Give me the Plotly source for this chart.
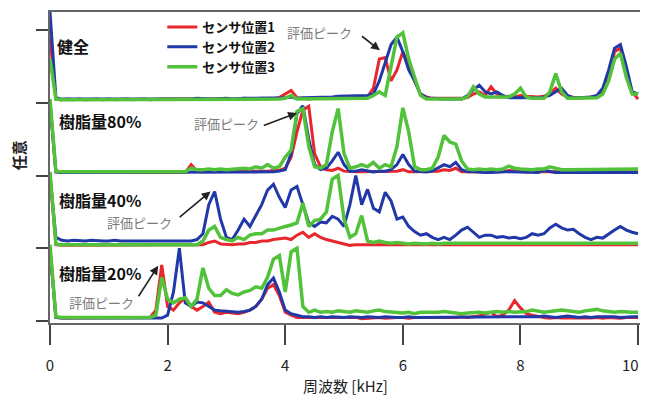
import plotly.graph_objects as go

# frequency grid (kHz)
freq = [round(i * 0.1, 1) for i in range(101)]

panel_names = ["健全", "樹脂量80%", "樹脂量40%", "樹脂量20%"]
series_names = ["センサ位置1", "センサ位置2", "センサ位置3"]
x_ticks = [0, 2, 4, 6, 8, 10]

# ---- 健全 ----
h_red = [0.90, 0.05, 0.04, 0.05, 0.04, 0.05, 0.04, 0.05, 0.05, 0.04,
         0.05, 0.04, 0.05, 0.05, 0.04, 0.05, 0.05, 0.04, 0.05, 0.05,
         0.05, 0.05, 0.04, 0.05, 0.05, 0.05, 0.04, 0.05, 0.05, 0.05,
         0.05, 0.05, 0.05, 0.06, 0.05, 0.05, 0.06, 0.05, 0.06, 0.07,
         0.12, 0.17, 0.07, 0.06, 0.05, 0.06, 0.06, 0.05, 0.06, 0.06,
         0.06, 0.07, 0.06, 0.07, 0.08, 0.20, 0.60, 0.62, 0.30, 0.45,
         0.70, 0.52, 0.30, 0.12, 0.08, 0.06, 0.06, 0.05, 0.06, 0.06,
         0.06, 0.07, 0.12, 0.15, 0.10, 0.22, 0.12, 0.08, 0.09, 0.08,
         0.10, 0.09, 0.08, 0.08, 0.09, 0.12, 0.20, 0.12, 0.08, 0.07,
         0.07, 0.07, 0.08, 0.09, 0.15, 0.35, 0.70, 0.75, 0.40, 0.15,
         0.05]
h_blue = [1.25, 0.07, 0.05, 0.05, 0.05, 0.04, 0.05, 0.05, 0.04, 0.05,
          0.05, 0.05, 0.05, 0.04, 0.05, 0.05, 0.05, 0.05, 0.05, 0.05,
          0.05, 0.05, 0.05, 0.05, 0.05, 0.06, 0.05, 0.05, 0.05, 0.06,
          0.06, 0.05, 0.06, 0.06, 0.06, 0.06, 0.06, 0.06, 0.06, 0.06,
          0.07, 0.08, 0.06, 0.07, 0.07, 0.07, 0.08, 0.08, 0.08, 0.09,
          0.09, 0.09, 0.10, 0.10, 0.10, 0.12, 0.30, 0.55, 0.80, 0.90,
          0.70, 0.45, 0.30, 0.12, 0.07, 0.06, 0.05, 0.05, 0.05, 0.05,
          0.05, 0.10, 0.18, 0.24, 0.15, 0.12, 0.15, 0.10, 0.07, 0.07,
          0.07, 0.07, 0.06, 0.07, 0.08, 0.10, 0.15, 0.20, 0.10, 0.07,
          0.07, 0.07, 0.08, 0.10, 0.20, 0.45, 0.75, 0.80, 0.50, 0.15,
          0.12]
h_green = [0.60, 0.05, 0.04, 0.04, 0.04, 0.04, 0.04, 0.04, 0.04, 0.04,
           0.04, 0.04, 0.04, 0.04, 0.04, 0.04, 0.04, 0.04, 0.04, 0.04,
           0.04, 0.04, 0.04, 0.04, 0.04, 0.04, 0.04, 0.04, 0.04, 0.04,
           0.04, 0.04, 0.04, 0.04, 0.05, 0.04, 0.04, 0.05, 0.05, 0.05,
           0.06, 0.10, 0.05, 0.05, 0.05, 0.05, 0.05, 0.05, 0.05, 0.05,
           0.05, 0.05, 0.05, 0.06, 0.06, 0.10, 0.15, 0.10, 0.50, 0.90,
           0.96, 0.60, 0.35, 0.10, 0.05, 0.05, 0.05, 0.05, 0.05, 0.05,
           0.05, 0.08, 0.22, 0.12, 0.08, 0.08, 0.08, 0.07, 0.08, 0.12,
           0.20, 0.08, 0.06, 0.06, 0.06, 0.15, 0.40, 0.15, 0.06, 0.06,
           0.06, 0.06, 0.06, 0.07, 0.12, 0.30, 0.60, 0.68, 0.35, 0.12,
           0.12]

# ---- 樹脂量80% ----
r80_red = [1.00, 0.05, 0.04, 0.04, 0.04, 0.04, 0.04, 0.04, 0.04, 0.04,
           0.04, 0.04, 0.04, 0.04, 0.04, 0.04, 0.04, 0.04, 0.04, 0.04,
           0.04, 0.04, 0.04, 0.04, 0.15, 0.06, 0.05, 0.05, 0.05, 0.05,
           0.05, 0.05, 0.05, 0.05, 0.05, 0.05, 0.06, 0.06, 0.07, 0.07,
           0.10, 0.25, 0.60, 0.90, 0.95, 0.30, 0.12, 0.08, 0.07, 0.10,
           0.06, 0.05, 0.05, 0.05, 0.05, 0.05, 0.05, 0.05, 0.05, 0.06,
           0.08, 0.05, 0.05, 0.05, 0.05, 0.05, 0.06, 0.08, 0.07, 0.10,
           0.05, 0.05, 0.05, 0.05, 0.05, 0.05, 0.05, 0.05, 0.07, 0.06,
           0.05, 0.05, 0.05, 0.05, 0.05, 0.05, 0.05, 0.05, 0.05, 0.05,
           0.05, 0.05, 0.05, 0.05, 0.05, 0.06, 0.05, 0.05, 0.05, 0.05,
           0.05]
r80_blue = [1.00, 0.05, 0.04, 0.04, 0.04, 0.04, 0.04, 0.04, 0.04, 0.04,
            0.04, 0.04, 0.04, 0.04, 0.04, 0.04, 0.04, 0.04, 0.04, 0.04,
            0.04, 0.04, 0.04, 0.04, 0.05, 0.04, 0.04, 0.04, 0.04, 0.04,
            0.04, 0.04, 0.04, 0.04, 0.04, 0.05, 0.05, 0.05, 0.05, 0.06,
            0.08, 0.30, 0.85, 0.96, 0.50, 0.15, 0.08, 0.10, 0.20, 0.32,
            0.15, 0.06, 0.06, 0.08, 0.06, 0.05, 0.06, 0.06, 0.08, 0.15,
            0.29, 0.15, 0.06, 0.05, 0.05, 0.06, 0.10, 0.15, 0.12, 0.18,
            0.08, 0.05, 0.05, 0.04, 0.04, 0.04, 0.05, 0.05, 0.05, 0.05,
            0.04, 0.04, 0.04, 0.04, 0.07, 0.05, 0.04, 0.04, 0.04, 0.04,
            0.04, 0.04, 0.05, 0.05, 0.04, 0.04, 0.05, 0.05, 0.04, 0.04,
            0.04]
r80_green = [1.05, 0.06, 0.05, 0.05, 0.05, 0.05, 0.05, 0.05, 0.05, 0.05,
             0.05, 0.05, 0.05, 0.05, 0.05, 0.05, 0.05, 0.05, 0.05, 0.05,
             0.05, 0.05, 0.05, 0.05, 0.10, 0.08, 0.08, 0.09, 0.08, 0.09,
             0.08, 0.09, 0.09, 0.10, 0.09, 0.12, 0.10, 0.15, 0.10, 0.12,
             0.25, 0.35, 0.88, 0.92, 0.40, 0.12, 0.10, 0.15, 0.60, 0.92,
             0.30, 0.10, 0.12, 0.15, 0.12, 0.18, 0.10, 0.15, 0.12, 0.40,
             0.93, 0.60, 0.12, 0.08, 0.08, 0.10, 0.25, 0.55, 0.46, 0.43,
             0.20, 0.09, 0.08, 0.09, 0.08, 0.09, 0.08, 0.09, 0.13, 0.10,
             0.09, 0.08, 0.08, 0.09, 0.09, 0.12, 0.10, 0.08, 0.08, 0.08,
             0.09, 0.08, 0.09, 0.09, 0.08, 0.09, 0.09, 0.08, 0.09, 0.09,
             0.09]

# ---- 樹脂量40% ----
r40_red = [1.00, 0.05, 0.04, 0.04, 0.04, 0.04, 0.04, 0.04, 0.04, 0.04,
           0.04, 0.04, 0.04, 0.04, 0.04, 0.04, 0.04, 0.04, 0.04, 0.04,
           0.04, 0.04, 0.04, 0.04, 0.04, 0.04, 0.05, 0.08, 0.10, 0.06,
           0.05, 0.05, 0.06, 0.06, 0.08, 0.08, 0.10, 0.10, 0.12, 0.13,
           0.14, 0.12, 0.18, 0.22, 0.15, 0.20, 0.15, 0.12, 0.10, 0.08,
           0.05, 0.04, 0.05, 0.05, 0.04, 0.04, 0.05, 0.05, 0.04, 0.05,
           0.05, 0.04, 0.04, 0.05, 0.05, 0.04, 0.04, 0.05, 0.05, 0.04,
           0.04, 0.05, 0.05, 0.04, 0.04, 0.05, 0.05, 0.04, 0.04, 0.04,
           0.04, 0.05, 0.04, 0.04, 0.05, 0.04, 0.04, 0.05, 0.04, 0.04,
           0.04, 0.04, 0.05, 0.04, 0.04, 0.05, 0.05, 0.04, 0.04, 0.05,
           0.05]
r40_blue = [1.00, 0.15, 0.11, 0.10, 0.11, 0.10, 0.10, 0.11, 0.10, 0.10,
            0.10, 0.11, 0.10, 0.10, 0.11, 0.10, 0.10, 0.10, 0.11, 0.10,
            0.10, 0.10, 0.11, 0.10, 0.10, 0.12, 0.20, 0.60, 0.78, 0.40,
            0.15, 0.12, 0.25, 0.40, 0.30, 0.45, 0.60, 0.80, 0.88, 0.70,
            0.56, 0.80, 0.85, 0.60, 0.35, 0.30, 0.36, 0.35, 0.44, 0.40,
            0.30, 0.60, 1.00, 0.60, 0.81, 0.55, 0.50, 0.77, 0.65, 0.40,
            0.43, 0.30, 0.23, 0.18, 0.20, 0.15, 0.12, 0.15, 0.12, 0.18,
            0.25, 0.29, 0.22, 0.15, 0.18, 0.18, 0.15, 0.16, 0.14, 0.15,
            0.13, 0.15, 0.20, 0.18, 0.20, 0.28, 0.33, 0.28, 0.25, 0.26,
            0.20, 0.15, 0.12, 0.15, 0.14, 0.20, 0.25, 0.30, 0.25, 0.22,
            0.20]
r40_green = [1.05, 0.06, 0.05, 0.05, 0.05, 0.05, 0.05, 0.05, 0.05, 0.05,
             0.05, 0.05, 0.05, 0.05, 0.05, 0.05, 0.05, 0.05, 0.05, 0.05,
             0.05, 0.05, 0.05, 0.05, 0.05, 0.05, 0.10, 0.25, 0.30, 0.15,
             0.12, 0.10, 0.15, 0.12, 0.18, 0.20, 0.20, 0.25, 0.25, 0.28,
             0.30, 0.32, 0.35, 0.62, 0.30, 0.38, 0.40, 0.50, 0.95, 1.00,
             0.40, 0.15, 0.20, 0.45, 0.10, 0.08, 0.10, 0.08, 0.07, 0.08,
             0.07, 0.06, 0.07, 0.06, 0.06, 0.07, 0.06, 0.07, 0.07, 0.06,
             0.06, 0.07, 0.06, 0.06, 0.07, 0.06, 0.06, 0.07, 0.06, 0.06,
             0.06, 0.07, 0.06, 0.06, 0.06, 0.07, 0.06, 0.06, 0.07, 0.06,
             0.06, 0.06, 0.07, 0.06, 0.06, 0.07, 0.06, 0.06, 0.07, 0.06,
             0.07]

# ---- 樹脂量20% ----
r20_red = [1.00, 0.05, 0.04, 0.04, 0.04, 0.04, 0.04, 0.04, 0.04, 0.04,
           0.04, 0.04, 0.04, 0.04, 0.04, 0.04, 0.04, 0.05, 0.15, 0.77,
           0.20, 0.15, 0.25, 0.32, 0.20, 0.15, 0.20, 0.26, 0.12, 0.10,
           0.12, 0.11, 0.10, 0.12, 0.15, 0.20, 0.30, 0.45, 0.50, 0.35,
           0.12, 0.08, 0.05, 0.05, 0.05, 0.04, 0.05, 0.05, 0.04, 0.05,
           0.05, 0.04, 0.05, 0.03, 0.04, 0.05, 0.05, 0.04, 0.05, 0.05,
           0.05, 0.04, 0.05, 0.05, 0.04, 0.05, 0.05, 0.04, 0.05, 0.05,
           0.06, 0.05, 0.06, 0.07, 0.10, 0.12, 0.06, 0.08, 0.15, 0.28,
           0.18, 0.10, 0.08, 0.06, 0.05, 0.04, 0.05, 0.04, 0.04, 0.03,
           0.03, 0.04, 0.04, 0.05, 0.04, 0.05, 0.04, 0.04, 0.05, 0.05,
           0.05]
r20_blue = [1.00, 0.05, 0.04, 0.04, 0.04, 0.04, 0.04, 0.04, 0.04, 0.04,
            0.04, 0.04, 0.04, 0.04, 0.04, 0.04, 0.04, 0.04, 0.04, 0.04,
            0.08, 0.40, 1.00, 0.25, 0.20, 0.26, 0.25, 0.20, 0.15, 0.14,
            0.13, 0.12, 0.12, 0.13, 0.15, 0.20, 0.30, 0.50, 0.59, 0.40,
            0.15, 0.10, 0.08, 0.06, 0.06, 0.05, 0.06, 0.05, 0.06, 0.05,
            0.05, 0.06, 0.05, 0.05, 0.06, 0.05, 0.05, 0.06, 0.05, 0.05,
            0.05, 0.06, 0.05, 0.05, 0.06, 0.05, 0.05, 0.05, 0.06, 0.05,
            0.05, 0.06, 0.05, 0.05, 0.06, 0.05, 0.05, 0.06, 0.05, 0.05,
            0.06, 0.05, 0.05, 0.06, 0.07, 0.06, 0.05, 0.06, 0.07, 0.06,
            0.05, 0.06, 0.05, 0.06, 0.06, 0.07, 0.06, 0.05, 0.06, 0.06,
            0.06]
r20_green = [1.05, 0.06, 0.05, 0.05, 0.05, 0.05, 0.05, 0.05, 0.05, 0.05,
             0.05, 0.05, 0.05, 0.05, 0.05, 0.05, 0.05, 0.05, 0.08, 0.60,
             0.30, 0.25, 0.30, 0.32, 0.20, 0.30, 0.73, 0.45, 0.35, 0.35,
             0.43, 0.38, 0.36, 0.40, 0.42, 0.47, 0.45, 0.60, 0.85, 0.90,
             0.40, 0.95, 1.00, 0.20, 0.12, 0.15, 0.12, 0.13, 0.12, 0.14,
             0.13, 0.12, 0.14, 0.13, 0.12, 0.14, 0.15, 0.13, 0.12, 0.12,
             0.11, 0.12, 0.10, 0.12, 0.12, 0.11, 0.12, 0.13, 0.12, 0.11,
             0.10, 0.11, 0.12, 0.12, 0.11, 0.12, 0.13, 0.12, 0.13, 0.12,
             0.12, 0.13, 0.15, 0.14, 0.12, 0.13, 0.14, 0.15, 0.14, 0.13,
             0.12, 0.14, 0.15, 0.16, 0.14, 0.13, 0.12, 0.13, 0.12, 0.12,
             0.12]

panels = [
    (3, [h_red, h_blue, h_green]),
    (2, [r80_red, r80_blue, r80_green]),
    (1, [r40_red, r40_blue, r40_green]),
    (0, [r20_red, r20_blue, r20_green]),
]
colors = ["#e8262d", "#2139a8", "#52c23a"]
widths = [3, 3, 3.5]

FONT = "Noto Sans CJK JP"
fig = go.Figure()
for p, (offset, series) in enumerate(panels):
    for s, vals in enumerate(series):
        fig.add_trace(go.Scatter(
            x=freq, y=[v + offset for v in vals], mode="lines",
            line=dict(color=colors[s], width=widths[s]),
            name=series_names[s], showlegend=(p == 0),
            legendrank=s + 1))

# panel labels (data coords)
label_pos = [(0.08, 3.78), (0.12, 2.75), (0.12, 1.67), (0.12, 0.66)]
annos = []
for name, (lx, ly) in zip(panel_names, label_pos):
    annos.append(dict(x=lx, y=ly, xref="x", yref="y", text="<b>" + name + "</b>",
                      showarrow=False, xanchor="left", yanchor="middle",
                      font=dict(family=FONT, size=16, color="#111")))

# 評価ピーク labels + arrows: (text center), (arrow tail), (arrow head)
peak_marks = [
    ((4.59, 3.96), (5.28, 3.93), (5.61, 3.72)),
    ((3.00, 2.71), (3.61, 2.68), (4.20, 2.86)),
    ((1.53, 1.36), (2.18, 1.41), (2.73, 1.78)),
    ((0.88, 0.26), (1.49, 0.32), (1.84, 0.76)),
]
for (tx, ty), (ax, ay), (hx, hy) in peak_marks:
    annos.append(dict(x=tx, y=ty, xref="x", yref="y", text="評価ピーク",
                      showarrow=False, font=dict(family=FONT, size=13, color="#7a7a7a")))
    annos.append(dict(x=hx, y=hy, ax=ax, ay=ay, xref="x", yref="y",
                      axref="x", ayref="y", text="", showarrow=True,
                      arrowhead=2, arrowsize=1.1, arrowwidth=1.6, arrowcolor="#222"))

# last tick label drawn right-anchored at the plot's right edge so it stays on the page
tick_text = [str(t) for t in x_ticks]
annos.append(dict(x=1.0, y=-0.135, xref="paper", yref="paper",
                  text=tick_text[-1], showarrow=False, xanchor="right", yanchor="middle",
                  font=dict(family=FONT, size=15, color="#222")))
shown_ticktext = tick_text[:-1] + [""]

annos.append(dict(x=0.5, y=-0.2, xref="paper", yref="paper", text="周波数 [kHz]",
                  showarrow=False, xanchor="center", yanchor="middle",
                  font=dict(family=FONT, size=15, color="#222")))
annos.append(dict(x=-0.054, y=0.54, xref="paper", yref="paper", text="<b>任意</b>",
                  showarrow=False, textangle=-90, xanchor="center", yanchor="middle",
                  font=dict(family=FONT, size=15, color="#222")))

# page has an 8px body margin; keep the figure small enough to avoid scrollbars
fig.update_layout(
    width=640, height=393,
    margin=dict(l=42, r=7, t=4, b=78, autoexpand=False),
    paper_bgcolor="white", plot_bgcolor="white",
    font=dict(family=FONT, color="#222"),
    annotations=annos,
    legend=dict(x=0.19, y=1.0, xanchor="left", yanchor="top",
                bgcolor="rgba(0,0,0,0)",
                font=dict(family=FONT, size=13, color="#111", weight="bold"),
                tracegroupgap=0, itemwidth=30),
    xaxis=dict(range=[0, 10.05], tickvals=x_ticks, ticktext=shown_ticktext,
               automargin=False, ticklabeloverflow="allow",
               showgrid=False, zeroline=False, showline=True, mirror=True,
               linecolor="#666", linewidth=1.5, ticks="outside", ticklen=20,
               tickwidth=2, tickcolor="#444", ticklabelstandoff=8,
               tickfont=dict(family=FONT, size=15, color="#222")),
    yaxis=dict(range=[-0.027, 4.247], tickvals=[0, 1, 2, 3, 4], showticklabels=False,
               automargin=False,
               showgrid=False, zeroline=False, showline=True, mirror=True,
               linecolor="#666", linewidth=1.5, ticks="outside", ticklen=12,
               tickwidth=2, tickcolor="#444"),
)

fig.write_html("out.html")
